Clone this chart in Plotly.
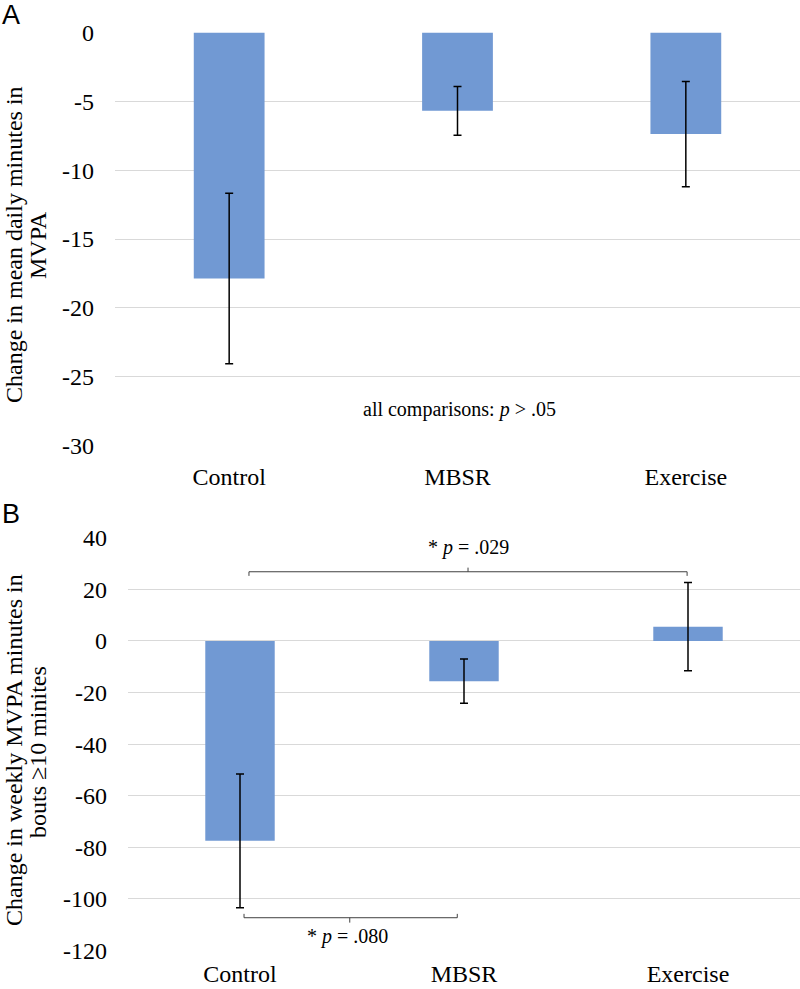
import plotly.graph_objects as go

categories = ["Control", "MBSR", "Exercise"]

# Panel A: change in mean daily minutes in MVPA
a_values = [-17.87, -5.69, -7.38]
a_errors = [6.2, 1.77, 3.82]
a_ticks = [0, -5, -10, -15, -20, -25, -30]
a_ticklabels = ["0", "-5", "-10", "-15", "-20", "-25", "-30"]

# Panel B: change in weekly MVPA minutes in bouts >=10 min
b_values = [-77.5, -15.6, 5.5]
b_errors = [25.9, 8.6, 17.1]
b_ticks = [40, 20, 0, -20, -40, -60, -80, -100, -120]
b_ticklabels = ["40", "20", "0", "-20", "-40", "-60", "-80", "-100", "-120"]

BAR = "#7199D3"
SERIF = "Liberation Serif"
W, H = 800, 989

fig = go.Figure()
fig.add_trace(go.Bar(x=categories, y=a_values, marker=dict(color=BAR, line=dict(width=0)),
                     error_y=dict(type="data", array=a_errors, visible=True, color="black",
                                  thickness=1.5, width=4),
                     xaxis="x", yaxis="y", showlegend=False))
fig.add_trace(go.Bar(x=categories, y=b_values, marker=dict(color=BAR, line=dict(width=0)),
                     error_y=dict(type="data", array=b_errors, visible=True, color="black",
                                  thickness=1.5, width=4),
                     xaxis="x2", yaxis="y2", showlegend=False))

def py(px):
    return 1 - px / H

axis_font = dict(family=SERIF, size=24, color="black")
grid = "#D9D9D9"

fig.update_layout(
    width=W, height=H,
    margin=dict(l=0, r=0, t=0, b=0, autoexpand=False),
    paper_bgcolor="white", plot_bgcolor="white",
    bargap=0.69,
    xaxis=dict(domain=[115 / W, 1], anchor="y", tickfont=axis_font, showgrid=False,
               showline=False, zeroline=False, ticks="", ticklabelstandoff=14,
               automargin=False),
    yaxis=dict(domain=[py(445.5), py(32.5)], anchor="x", range=[-30, 0], tickvals=a_ticks,
               ticktext=a_ticklabels,
               tickfont=axis_font, showgrid=True, gridcolor=grid, gridwidth=1,
               zeroline=False, showline=False, ticks="", ticklabelstandoff=20,
               automargin=False),
    xaxis2=dict(domain=[128 / W, 1], anchor="y2", tickfont=axis_font, showgrid=False,
                showline=False, zeroline=False, ticks="", ticklabelstandoff=6,
                automargin=False),
    yaxis2=dict(domain=[py(950.5), py(537.7)], anchor="x2", range=[-120, 40], tickvals=b_ticks,
                ticktext=b_ticklabels,
                tickfont=axis_font, showgrid=True, gridcolor=grid, gridwidth=1,
                zeroline=False, showline=False, ticks="", ticklabelstandoff=20,
                automargin=False),
)

ann_font = dict(family=SERIF, size=20, color="black")
annotations = [
    dict(text="A", x=0, y=py(15), xref="paper", yref="paper", xanchor="left", yanchor="middle",
         showarrow=False, font=dict(family="Liberation Sans", size=27, color="black")),
    dict(text="B", x=0, y=py(514), xref="paper", yref="paper", xanchor="left", yanchor="middle",
         showarrow=False, font=dict(family="Liberation Sans", size=27, color="black")),
    dict(text="Change in mean daily minutes in", x=14 / W, y=py(245), xref="paper", yref="paper",
         textangle=-90, showarrow=False, font=axis_font, xanchor="center", yanchor="middle"),
    dict(text="MVPA", x=38 / W, y=py(245), xref="paper", yref="paper",
         textangle=-90, showarrow=False, font=axis_font, xanchor="center", yanchor="middle"),
    dict(text="Change in weekly MVPA minutes in", x=14 / W, y=py(750), xref="paper", yref="paper",
         textangle=-90, showarrow=False, font=axis_font, xanchor="center", yanchor="middle"),
    dict(text="bouts \u226510 minites", x=38 / W, y=py(752), xref="paper", yref="paper",
         textangle=-90, showarrow=False, font=axis_font, xanchor="center", yanchor="middle"),
    dict(text="all comparisons: <i>p</i> > .05", x=1.007, y=-27.4, xref="x", yref="y",
         showarrow=False, font=ann_font, xanchor="center", yanchor="middle"),
    dict(text="* <i>p</i> = .029", x=1.02, y=36.1, xref="x2", yref="y2",
         showarrow=False, font=ann_font, xanchor="center", yanchor="middle"),
    dict(text="* <i>p</i> = .080", x=0.478, y=-114.6, xref="x2", yref="y2",
         showarrow=False, font=ann_font, xanchor="center", yanchor="middle"),
]
fig.update_layout(annotations=annotations)

br = dict(color="#404040", width=1)
shapes = [
    # top bracket Control - Exercise
    dict(type="path", xref="x2", yref="y2",
         path="M 0.04,25.2 L 0.04,26.8 L 1.996,26.8 L 1.996,25.2", line=br),
    dict(type="line", xref="x2", yref="y2", x0=1.018, x1=1.018, y0=26.8, y1=28.4, line=br),
    # bottom bracket Control - MBSR
    dict(type="path", xref="x2", yref="y2",
         path="M 0.018,-105.8 L 0.018,-107.3 L 0.97,-107.3 L 0.97,-105.8", line=br),
    dict(type="line", xref="x2", yref="y2", x0=0.49, x1=0.49, y0=-107.3, y1=-109.2, line=br),
]
fig.update_layout(shapes=shapes)

fig.write_html("out.html", config={"displayModeBar": False},
               post_script="document.body.style.margin='0';document.body.style.overflow='hidden';")
